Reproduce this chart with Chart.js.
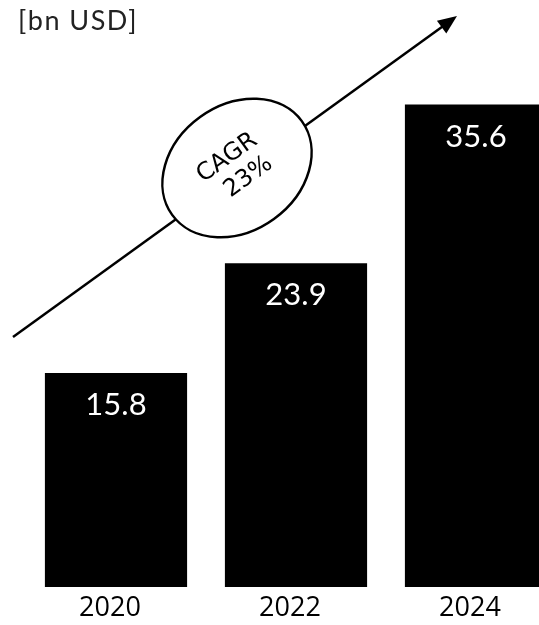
<!DOCTYPE html>
<html>
<head>
<meta charset="utf-8">
<script src="https://cdn.jsdelivr.net/npm/chart.js@4/dist/chart.umd.min.js"></script>
<style>
  html, body { margin: 0; padding: 0; background: #fff; overflow: hidden; }
  #wrap { width: 539px; height: 625px; overflow: hidden; }
</style>
</head>
<body>
<div id="wrap"><canvas id="myChart" width="566" height="625"></canvas></div>
<script>
const years = ["2020", "2022", "2024"];
const marketSize = [15.8, 23.9, 35.6];
const unitLabel = "[bn USD]";
const cagrLines = ["CAGR", "23%"];

// labels, arrow and CAGR bubble
const decorPlugin = {
  id: "decor",
  afterDatasetsDraw(chart) {
    const ctx = chart.ctx;
    const x = chart.scales.x;
    const meta = chart.getDatasetMeta(0);

    ctx.save();
    // value labels inside bars
    ctx.fillStyle = "#fff";
    ctx.font = "31px Lato";
    ctx.textAlign = "center";
    ctx.textBaseline = "middle";
    meta.data.forEach((bar, i) => {
      ctx.fillText(marketSize[i].toFixed(1), bar.x, bar.y + 32);
    });

    // year labels under bars
    ctx.fillStyle = "#000";
    ctx.font = "27px 'Open Sans'";
    years.forEach((yr, i) => {
      ctx.fillText(yr, x.getPixelForValue(i) - 6, chart.chartArea.bottom + 21);
    });

    // unit
    ctx.textAlign = "left";
    ctx.font = "27px Lato";
    ctx.letterSpacing = "1.5px";
    ctx.fillStyle = "#222";
    ctx.fillText(unitLabel, 18, 21);
    ctx.letterSpacing = "0px";

    // growth arrow
    const x0 = 13, y0 = 337, x1 = 457, y1 = 16;
    const ang = Math.atan2(y1 - y0, x1 - x0);
    ctx.strokeStyle = "#000";
    ctx.lineWidth = 2.5;
    ctx.beginPath();
    ctx.moveTo(x0, y0);
    ctx.lineTo(x1 - 14 * Math.cos(ang), y1 - 14 * Math.sin(ang));
    ctx.stroke();
    ctx.fillStyle = "#000";
    ctx.beginPath();
    ctx.moveTo(x1, y1);
    ctx.lineTo(x1 - 19 * Math.cos(ang) + 8 * Math.sin(ang), y1 - 19 * Math.sin(ang) - 8 * Math.cos(ang));
    ctx.lineTo(x1 - 19 * Math.cos(ang) - 8 * Math.sin(ang), y1 - 19 * Math.sin(ang) + 8 * Math.cos(ang));
    ctx.closePath();
    ctx.fill();

    // ellipse
    const cx = 237, cy = 168;
    ctx.translate(cx, cy);
    ctx.rotate(ang);
    ctx.beginPath();
    ctx.ellipse(0, 0, 80, 63, 0, 0, Math.PI * 2);
    ctx.fillStyle = "#fff";
    ctx.fill();
    ctx.lineWidth = 2.5;
    ctx.stroke();
    ctx.fillStyle = "#000";
    ctx.font = "24px 'DejaVu Sans'";
    ctx.textAlign = "center";
    ctx.fillText(cagrLines[0], -2, -14);
    ctx.fillText(cagrLines[1], 4, 14);
    ctx.restore();
  }
};

new Chart(document.getElementById("myChart"), {
  type: "bar",
  data: {
    labels: years,
    datasets: [{
      data: marketSize,
      backgroundColor: "#000",
      borderWidth: 0,
      barPercentage: 0.79,
      categoryPercentage: 1
    }]
  },
  options: {
    responsive: false,
    animation: false,
    layout: { padding: { left: 26, right: 0, top: 45, bottom: 38 } },
    plugins: { legend: { display: false }, tooltip: { enabled: false } },
    scales: {
      x: { display: false },
      y: { display: false, min: 0, max: 40 }
    }
  },
  plugins: [decorPlugin]
});
</script>
</body>
</html>
